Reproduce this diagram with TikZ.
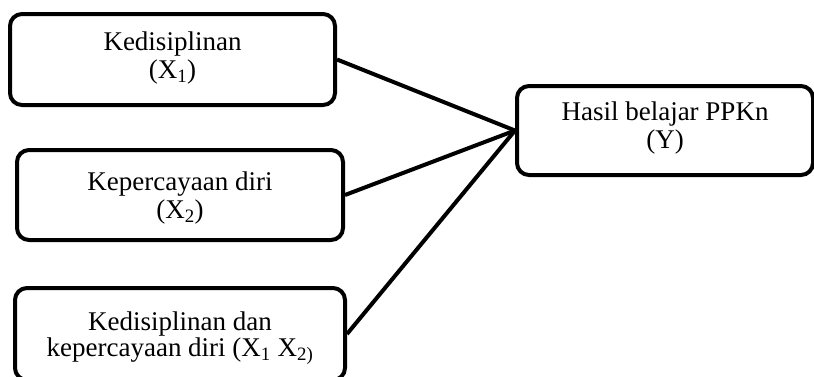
\documentclass[tikz,border=0pt]{standalone}
\usepackage{fontspec}
\setmainfont{Liberation Serif}

\begin{document}
\begin{tikzpicture}[x=1pt, y=-1pt,
    box/.style={draw, line width=4pt, rounded corners=12pt, align=center,
        font=\fontsize{27}{28}\selectfont},
    link/.style={line width=4pt}]
    \useasboundingbox (0,0) rectangle (814,376);

    % Nodes
    \node[box, minimum width=325pt, minimum height=91pt, text depth=8pt] (x1) at (172.5,59.5)
        {Kedisiplinan\\(X\textsubscript{1})};
    \node[box, minimum width=326pt, minimum height=90pt, text depth=0pt] (x2) at (180,195)
        {Kepercayaan diri\\(X\textsubscript{2})};
    \node[box, minimum width=330pt, minimum height=92pt, text depth=0pt] (x3) at (180,334)
        {Kedisiplinan dan\\[-2pt]kepercayaan diri (X\textsubscript{1} X\textsubscript{2)}};
    \node[box, minimum width=296pt, minimum height=89pt, text depth=10pt] (y) at (665,130.5)
        {Hasil belajar PPKn\\(Y)};

    % Edges
    \draw[link] (x1.east) -- (y.west);
    \draw[link] (x2.east) -- (y.west);
    \draw[link] (x3.east) -- (y.west);
\end{tikzpicture}
\end{document}
